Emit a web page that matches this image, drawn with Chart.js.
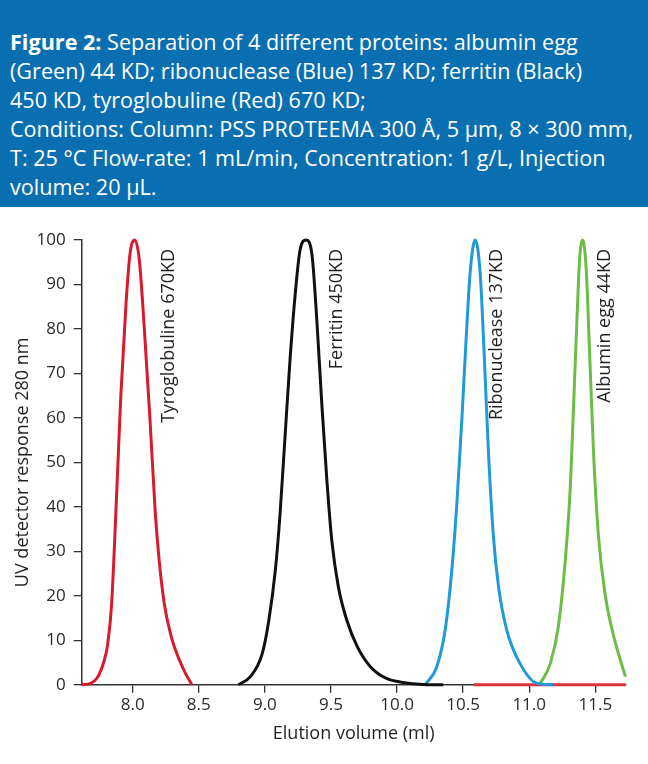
<!DOCTYPE html>
<html>
<head>
<meta charset="utf-8">
<script src="https://cdn.jsdelivr.net/npm/chart.js@4.4.1/dist/chart.umd.min.js"></script>
<style>
  html, body { margin: 0; padding: 0; background: #fff; }
  body { width: 648px; height: 764px; position: relative; overflow: hidden; }
  #hdr {
    position: absolute; left: 0; top: 0; width: 648px; height: 207px;
    background: #0a6fb1; color: #fff;
    font-family: 'Open Sans', sans-serif; font-size: 21.6px; line-height: 29px;
    box-sizing: border-box; padding: 27px 0 0 10px; white-space: nowrap;
  }
  #hdr b { font-weight: 700; }
  #wrap { position: absolute; left: 0; top: 207px; width: 648px; height: 557px; }
</style>
</head>
<body>
<div id="hdr"><b>Figure 2:</b> Separation of 4 different proteins: albumin egg<br>(Green) 44 KD; ribonuclease (Blue) 137 KD; ferritin (Black)<br>450 KD, tyroglobuline (Red) 670 KD;<br>Conditions: Column: PSS PROTEEMA 300 Å, 5 µm, 8 × 300 mm,<br>T: 25 °C Flow-rate: 1 mL/min, Concentration: 1 g/L, Injection<br>volume: 20 µL.</div>
<div id="wrap"><canvas id="c" width="648" height="557"></canvas></div>
<script>
// ---- data ----
const redX   = [7.614, 7.68, 7.73, 7.78, 7.81, 7.84, 7.88, 7.91, 7.95, 7.98, 8.015, 8.05, 8.09, 8.13, 8.17, 8.20, 8.24, 8.29, 8.34, 8.40, 8.447];
const redY   = [0, 0.3, 1.5, 5, 9, 18, 44, 65, 86, 97, 100, 95.5, 79, 60, 39, 28, 18, 11, 6.5, 2.5, 0];
const redBaseX = [10.58, 11.73];
const redBaseY = [0, 0];

const blackX = [8.80, 8.89, 8.98, 9.03, 9.08, 9.115, 9.153, 9.19, 9.23, 9.266, 9.312, 9.355, 9.393, 9.431, 9.469, 9.506, 9.556, 9.62, 9.70, 9.80, 9.92, 10.07, 10.28, 10.35];
const blackY = [0, 1.8, 7, 14.5, 26, 38.5, 56, 73, 88, 97.7, 100, 97, 82, 63, 46, 32.5, 22, 14.5, 8.5, 4, 1.4, 0.4, 0, 0];

const blueX  = [10.213, 10.30, 10.364, 10.415, 10.453, 10.49, 10.523, 10.554, 10.591, 10.629, 10.659, 10.692, 10.73, 10.768, 10.83, 10.93, 11.06, 11.18];
const blueY  = [0, 4, 12.3, 26, 41, 59.5, 78, 93, 100, 92.5, 74.5, 52, 33, 22, 12.3, 4.8, 0.3, 0];

const greenX = [11.078, 11.16, 11.22, 11.273, 11.311, 11.336, 11.361, 11.381, 11.404, 11.432, 11.457, 11.487, 11.525, 11.576, 11.64, 11.728];
const greenY = [0, 4.8, 13, 28, 44.5, 63, 82, 95.5, 100, 93, 74.5, 52, 33, 20, 10.8, 1.8];

const xTicks = [8.0, 8.5, 9.0, 9.5, 10.0, 10.5, 11.0, 11.5];
const xTickLabels = ['8.0', '8.5', '9.0', '9.5', '10.0', '10.5', '11.0', '11.5'];
const yTicks = [0, 10, 20, 30, 40, 50, 60, 70, 80, 90, 100];

const peakLabels = ['Tyroglobuline 670KD', 'Ferritin 450KD', 'Ribonuclease 137KD', 'Albumin egg 44KD'];
const peakLabelX = [8.27, 9.545, 10.756, 11.576];
const peakLabelTop = [98, 98, 98, 98];

// ---- build ----
const pts = (xs, ys) => xs.map((x, i) => ({ x: x, y: ys[i] }));
const series = (data, color) => ({
  data: data, borderColor: color, backgroundColor: color, borderWidth: 3,
  pointRadius: 0, cubicInterpolationMode: 'monotone', clip: 6, fill: false
});

Chart.defaults.font.family = "'Open Sans', sans-serif";
Chart.defaults.color = '#2a2a2a';

const labelPlugin = {
  id: 'peakLabels',
  afterDatasetsDraw(chart) {
    const ctx = chart.ctx, xs = chart.scales.x, ys = chart.scales.y;
    ctx.save();
    ctx.fillStyle = '#231f20';
    ctx.font = "18px 'Open Sans', sans-serif";
    ctx.textAlign = 'right';
    ctx.textBaseline = 'middle';
    peakLabels.forEach((t, i) => {
      const px = xs.getPixelForValue(peakLabelX[i]);
      const py = ys.getPixelForValue(peakLabelTop[i]);
      ctx.save();
      ctx.translate(px, py);
      ctx.rotate(-Math.PI / 2);
      ctx.fillText(t, 0, 0);
      ctx.restore();
    });
    ctx.restore();
  }
};

new Chart(document.getElementById('c'), {
  type: 'line',
  data: {
    datasets: [
      series(pts(blackX, blackY), '#111111'),
      series(pts(blueX, blueY), '#1f9ad7'),
      series(pts(redBaseX, redBaseY), '#e0313f'),
      series(pts(greenX, greenY), '#6cbd45'),
      series(pts(redX, redY), '#d81b2c')
    ]
  },
  options: {
    responsive: false,
    animation: false,
    events: [],
    layout: { padding: { left: 0, right: 22.3, top: 33, bottom: 0 } },
    plugins: { legend: { display: false }, tooltip: { enabled: false } },
    scales: {
      x: {
        type: 'linear', min: 7.614, max: 11.73,
        afterBuildTicks: (s) => { s.ticks = xTicks.map(v => ({ value: v })); },
        afterFit: (s) => { s.height = 79.3; },
        ticks: {
          autoSkip: false, maxRotation: 0, padding: 2,
          font: { size: 17 }, color: '#2a2a2a',
          callback: (v) => { const i = xTicks.indexOf(v); return i >= 0 ? xTickLabels[i] : ''; }
        },
        grid: { display: true, drawOnChartArea: false, drawTicks: true, tickLength: 8, color: '#333', lineWidth: 1.3 },
        border: { display: true, color: '#333', width: 1.5 },
        title: { display: true, text: 'Elution volume (ml)', color: '#231f20', font: { size: 18 }, padding: { top: 0, bottom: 19 } }
      },
      y: {
        type: 'linear', min: 0, max: 100,
        afterBuildTicks: (s) => { s.ticks = yTicks.map(v => ({ value: v })); },
        afterFit: (s) => { s.width = 81.7; },
        ticks: { padding: 8, font: { size: 17 }, color: '#2a2a2a' },
        grid: { display: true, drawOnChartArea: false, drawTicks: true, tickLength: 8, color: '#333', lineWidth: 1.3 },
        border: { display: true, color: '#333', width: 1.5 },
        title: { display: true, text: 'UV detector response 280 nm', color: '#231f20', font: { size: 18 }, padding: { top: 12, bottom: 0 } }
      }
    }
  },
  plugins: [labelPlugin]
});
</script>
</body>
</html>
